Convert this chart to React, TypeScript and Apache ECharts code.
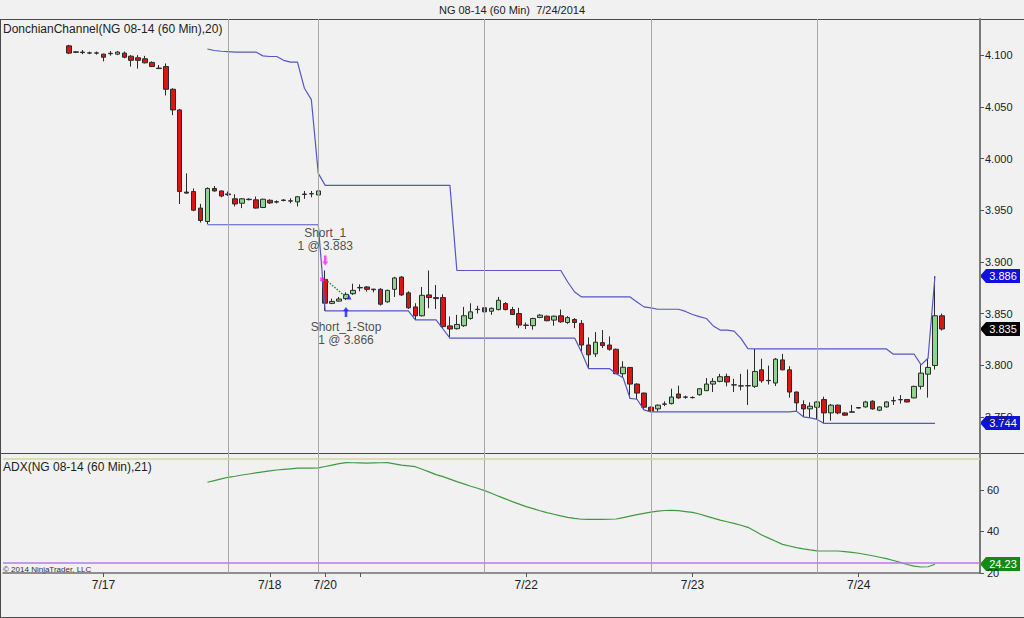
import React, { useEffect, useRef } from 'react';
import * as echarts from 'echarts';

// ---------- data ----------
const leadingSlots = 9;
const trailingSlots = 5;

const opens = [
  4.109, 4.1032, 4.103, 4.102, 4.1022, 4.101, 4.1014, 4.101, 4.102, 4.099,
  4.0975, 4.0965, 4.093, 4.0875, 4.089, 4.067, 4.047, 3.9675, 3.968, 3.952,
  3.939, 3.971, 3.9686, 3.9657, 3.961, 3.9567, 3.9602, 3.96, 3.9526, 3.9596,
  3.9582, 3.9598, 3.959, 3.958, 3.9656, 3.966, 3.9647, 3.883, 3.8598, 3.862,
  3.8644, 3.8692, 3.8752, 3.8757, 3.8736, 3.8734, 3.8613, 3.8734, 3.8853, 3.87,
  3.8564, 3.8478, 3.868, 3.8654, 3.8654, 3.838, 3.8353, 3.8382, 3.8452, 3.8541,
  3.8555, 3.8522, 3.8538, 3.8596, 3.8538, 3.85, 3.8388, 3.8382, 3.8462, 3.8474,
  3.8436, 3.8478, 3.8413, 3.8442, 3.8404, 3.8195, 3.8109, 3.8218, 3.8195, 3.8154,
  3.7917, 3.7978, 3.7817, 3.773, 3.7593, 3.7577, 3.7625, 3.7628, 3.7721, 3.7692,
  3.7688, 3.7714, 3.7753, 3.7817, 3.7843, 3.7891, 3.781, 3.78, 3.7802, 3.7795,
  3.7955, 3.7853, 3.7827, 3.8051, 3.7955, 3.774, 3.7618, 3.7577, 3.7593, 3.7667,
  3.7538, 3.7613, 3.7538, 3.7548, 3.759, 3.7596, 3.7651, 3.7564, 3.7596, 3.7657,
  3.7667, 3.7667, 3.7683, 3.7795, 3.7913, 3.7997, 3.8478,
];
const closes = [
  4.102, 4.1028, 4.1025, 4.1022, 4.102, 4.098, 4.1018, 4.103, 4.098, 4.095,
  4.095, 4.0926, 4.089, 4.087, 4.067, 4.047, 3.968, 3.9665, 3.95, 3.94,
  3.971, 3.9686, 3.9637, 3.965, 3.956, 3.961, 3.9606, 3.952, 3.9606, 3.957,
  3.9578, 3.9594, 3.9588, 3.963, 3.9652, 3.9658, 3.9686, 3.86, 3.8617, 3.864,
  3.8685, 3.8724, 3.8748, 3.8734, 3.873, 3.859, 3.8724, 3.8844, 3.868, 3.8555,
  3.8478, 3.8676, 3.8654, 3.8644, 3.8373, 3.835, 3.8394, 3.8478, 3.8516, 3.8538,
  3.8516, 3.855, 3.8628, 3.8538, 3.849, 3.8388, 3.8385, 3.8452, 3.8484, 3.843,
  3.8474, 3.842, 3.846, 3.8413, 3.8195, 3.81, 3.8222, 3.819, 3.8154, 3.7917,
  3.798, 3.7817, 3.773, 3.7593, 3.7555, 3.7613, 3.7622, 3.7692, 3.7683, 3.769,
  3.7686, 3.7772, 3.7817, 3.7843, 3.7888, 3.7837, 3.7808, 3.7798, 3.78, 3.7939,
  3.7849, 3.785, 3.8058, 3.7955, 3.774, 3.7635, 3.7577, 3.7603, 3.7644, 3.7538,
  3.7613, 3.7538, 3.7516, 3.7545, 3.7585, 3.7644, 3.7577, 3.7596, 3.7644, 3.7655,
  3.7665, 3.7644, 3.7795, 3.7923, 3.7978, 3.8478, 3.835,
];
const lows = [
  4.101, 4.102, 4.101, 4.101, 4.1005, 4.094, 4.0995, 4.1, 4.097, 4.089,
  4.087, 4.092, 4.0885, 4.0868, 4.061, 4.042, 3.956, 3.966, 3.949, 3.938,
  3.9365, 3.968, 3.9625, 3.9638, 3.9536, 3.952, 3.9595, 3.9515, 3.952, 3.956,
  3.9565, 3.9585, 3.9567, 3.9536, 3.961, 3.9625, 3.964, 3.8525, 3.859, 3.8615,
  3.863, 3.868, 3.8715, 3.8712, 3.8705, 3.8577, 3.8605, 3.866, 3.867, 3.8545,
  3.8438, 3.8471, 3.8551, 3.8544, 3.835, 3.8262, 3.8345, 3.837, 3.844, 3.85,
  3.8505, 3.8487, 3.853, 3.853, 3.8485, 3.8358, 3.835, 3.8343, 3.8455, 3.8425,
  3.8382, 3.841, 3.84, 3.8358, 3.8125, 3.7967, 3.808, 3.8166, 3.814, 3.7915,
  3.7878, 3.7679, 3.767, 3.7567, 3.7548, 3.7548, 3.7603, 3.762, 3.7675, 3.7675,
  3.7677, 3.7705, 3.775, 3.774, 3.7835, 3.7795, 3.774, 3.7756, 3.7615, 3.778,
  3.783, 3.7813, 3.7798, 3.795, 3.7686, 3.7558, 3.75, 3.749, 3.7475, 3.7436,
  3.7462, 3.7525, 3.751, 3.7541, 3.758, 3.759, 3.757, 3.7555, 3.759, 3.7615,
  3.7628, 3.764, 3.768, 3.7765, 3.7686, 3.7958, 3.8335,
];
const highs = [
  4.11, 4.104, 4.105, 4.1035, 4.1035, 4.1015, 4.104, 4.104, 4.1035, 4.1,
  4.1, 4.0993, 4.094, 4.0905, 4.092, 4.068, 4.048, 3.9856, 3.971, 3.9561,
  3.972, 3.9734, 3.969, 3.968, 3.9654, 3.9615, 3.9615, 3.9632, 3.961, 3.9605,
  3.9595, 3.9606, 3.9615, 3.9635, 3.9686, 3.9686, 3.97, 3.8916, 3.8644, 3.866,
  3.8705, 3.8788, 3.8782, 3.8765, 3.8738, 3.8745, 3.873, 3.8855, 3.886, 3.8715,
  3.8599, 3.8757, 3.8916, 3.8775, 3.8686, 3.8471, 3.8487, 3.8564, 3.8599, 3.8574,
  3.8565, 3.8558, 3.866, 3.861, 3.8564, 3.8555, 3.8413, 3.8458, 3.8494, 3.848,
  3.848, 3.8538, 3.8475, 3.8455, 3.8436, 3.8269, 3.832, 3.834, 3.8278, 3.816,
  3.8038, 3.798, 3.7825, 3.7735, 3.76, 3.762, 3.765, 3.7772, 3.7801, 3.7705,
  3.7698, 3.7775, 3.7875, 3.7875, 3.7916, 3.7918, 3.7868, 3.7916, 3.7958, 3.8157,
  3.8063, 3.7996, 3.807, 3.8109, 3.799, 3.7745, 3.766, 3.764, 3.765, 3.7695,
  3.7625, 3.762, 3.7545, 3.7615, 3.7595, 3.7655, 3.766, 3.76, 3.765, 3.7695,
  3.7711, 3.767, 3.78, 3.8006, 3.8067, 3.886, 3.85,
];

// Donchian channel (20) and ADX (21) start at bar 20
const indicatorStartBar = 20;
const donchianUpper = [
  4.106, 4.1045, 4.1038, 4.1035, 4.103, 4.103, 4.103, 4.103, 4.0993, 4.0987,
  4.0987, 4.095, 4.0933, 4.0933, 4.068, 4.057, 3.9856, 3.974, 3.974, 3.974,
  3.974, 3.974, 3.974, 3.974, 3.974, 3.974, 3.974, 3.974, 3.974, 3.974,
  3.974, 3.974, 3.974, 3.974, 3.974, 3.974, 3.8916, 3.8916, 3.8916, 3.8916,
  3.8916, 3.8916, 3.8916, 3.8916, 3.8916, 3.8916, 3.8916, 3.8916, 3.8916, 3.8916,
  3.8916, 3.8916, 3.8805, 3.8708, 3.866, 3.866, 3.866, 3.866, 3.866, 3.866,
  3.866, 3.866, 3.8612, 3.8564, 3.8555, 3.8541, 3.8541, 3.8541, 3.8541, 3.852,
  3.849, 3.847, 3.8452, 3.838, 3.834, 3.834, 3.833, 3.826, 3.816, 3.8157,
  3.8157, 3.8157, 3.8157, 3.8157, 3.8157, 3.8157, 3.8157, 3.8157, 3.8157, 3.8157,
  3.8157, 3.8157, 3.8157, 3.8157, 3.8157, 3.8157, 3.8157, 3.8157, 3.8157, 3.8106,
  3.8106, 3.8106, 3.8106, 3.8003, 3.8067, 3.886,
];
const donchianLower = [
  3.9359, 3.9359, 3.9359, 3.9359, 3.9359, 3.9359, 3.9359, 3.9359, 3.9359, 3.9359,
  3.9359, 3.9359, 3.9359, 3.9359, 3.9359, 3.9359, 3.9359, 3.8525, 3.8525, 3.8525,
  3.8525, 3.8525, 3.8525, 3.8525, 3.8525, 3.8525, 3.8525, 3.8525, 3.8525, 3.8525,
  3.8438, 3.8438, 3.8438, 3.8438, 3.835, 3.8262, 3.8262, 3.8262, 3.8262, 3.8262,
  3.8262, 3.8262, 3.8262, 3.8262, 3.8262, 3.8262, 3.8262, 3.8262, 3.8262, 3.8262,
  3.8262, 3.8262, 3.8262, 3.8262, 3.8125, 3.7967, 3.7967, 3.7967, 3.7967, 3.7917,
  3.7878, 3.7679, 3.767, 3.7567, 3.7548, 3.7548, 3.7548, 3.7548, 3.7548, 3.7548,
  3.7548, 3.7548, 3.7548, 3.7548, 3.7548, 3.7548, 3.7548, 3.7548, 3.7548, 3.7548,
  3.7548, 3.7548, 3.7548, 3.7548, 3.7548, 3.7555, 3.75, 3.749, 3.7475, 3.7436,
  3.7436, 3.7436, 3.7436, 3.7436, 3.7436, 3.7436, 3.7436, 3.7436, 3.7436, 3.7436,
  3.7436, 3.7436, 3.7436, 3.7436, 3.7436, 3.7436,
];
const adxValues = [
  63.7, 64.5, 65.3, 66.1, 66.6, 67.2, 67.7, 68.2, 68.7, 69.2,
  69.6, 69.9, 70.2, 70.5, 70.5, 70.5, 70.6, 71.3, 72.0, 72.7,
  73.2, 73.1, 73.0, 72.9, 73.0, 73.1, 73.2, 72.6, 72.0, 71.6,
  71.2, 70.0, 68.7, 67.4, 66.4, 65.2, 64.0, 62.9, 61.8, 60.8,
  59.7, 58.4, 57.0, 55.7, 54.4, 53.2, 52.0, 51.0, 50.0, 49.1,
  48.3, 47.5, 46.8, 46.3, 45.9, 45.8, 45.8, 45.8, 45.9, 46.0,
  46.7, 47.4, 48.1, 48.7, 49.3, 49.8, 50.1, 50.2, 50.0, 49.6,
  49.2, 48.4, 47.4, 46.4, 45.5, 44.7, 43.9, 43.0, 42.0, 40.2,
  38.3, 36.8, 35.3, 33.8, 33.0, 32.2, 31.6, 31.1, 30.7, 30.6,
  30.6, 30.6, 30.3, 29.9, 29.5, 28.9, 28.3, 27.6, 26.9, 26.0,
  25.1, 24.1, 23.3, 22.9, 23.0, 24.23,
];
const adxLevels = [25, 75];

const sessionBreakBars = [23, 36, 60, 84, 108];
const dateTickBars = [5, 29, 37, 42, 66, 90, 114];
const dateTickLabels = ['7/17', '7/18', '7/20', '', '7/22', '7/23', '7/24'];
const priceTicks = [3.75, 3.8, 3.85, 3.9, 3.95, 4.0, 4.05, 4.1];
const adxTicks = [20, 40, 60];

const tradeEntry = { bar: 37, price: 3.883, name: 'Short_1' };
const tradeExit = { bar: 40, price: 3.866, name: 'Short_1-Stop' };

const titleText = 'NG 08-14 (60 Min)  7/24/2014';
const priceLabel = 'DonchianChannel(NG 08-14 (60 Min),20)';
const adxLabel = 'ADX(NG 08-14 (60 Min),21)';
const copyright = '\u00A9 2014 NinjaTrader, LLC';

const FONT = '"Liberation Sans", Arial, sans-serif';

export default function App() {
  const ref = useRef<HTMLDivElement>(null);

  useEffect(() => {
    const el = ref.current!;
    const chart = echarts.init(el, null, { renderer: 'svg' });
    const n = opens.length;
    const total = leadingSlots + n + trailingSlots;
    const categories = Array.from({ length: total }, (_, i) => String(i));
    const slot = (bar: number) => bar + leadingSlots;

    const candleData = categories.map((_, i) => {
      const b = i - leadingSlots;
      return b >= 0 && b < n ? [opens[b], closes[b], lows[b], highs[b]] : '-';
    });
    const pad = (start: number, values: number[]) =>
      categories.map((_, i) => {
        const b = i - leadingSlots - start;
        return b >= 0 && b < values.length ? values[b] : '-';
      });

    const tickSlots = dateTickBars.map(slot);
    const tickLabelAt = (idx: number) => {
      const k = tickSlots.indexOf(idx);
      return k >= 0 ? dateTickLabels[k] : '';
    };
    const isTick = (idx: number) => tickSlots.includes(idx);

    const sessionLines = sessionBreakBars.map((b) => ({ xAxis: slot(b) }));
    const vLineStyle = { color: '#a8a8a8', width: 1, type: 'solid' as const };

    const empty = categories.map(() => '-');

    const option: any = {
      animation: false,
      backgroundColor: '#f1f1f1',
      textStyle: { fontFamily: FONT },
      grid: [
        { left: 3, top: 19, width: 977, height: 434 },
        { left: 3, top: 453, width: 977, height: 120 },
      ],
      xAxis: [
        {
          type: 'category', gridIndex: 0, data: categories, boundaryGap: true,
          axisLine: { show: false }, axisTick: { show: false }, axisLabel: { show: false },
          splitLine: { show: false },
        },
        {
          type: 'category', gridIndex: 1, data: categories, boundaryGap: true,
          axisLine: { show: true, lineStyle: { color: '#6e6e6e', width: 1.5 } },
          axisTick: { show: true, alignWithLabel: true, interval: (i: number) => isTick(i), length: 4, lineStyle: { color: '#555' } },
          axisLabel: {
            show: true, interval: (i: number) => isTick(i), formatter: (_v: string, i: number) => tickLabelAt(i),
            fontSize: 12, color: '#222', margin: 6, fontFamily: FONT,
          },
          splitLine: { show: false },
        },
      ],
      yAxis: [
        {
          type: 'value', gridIndex: 0, position: 'right', min: 3.715, max: 4.135, scale: true,
          axisLine: { show: true, lineStyle: { color: '#7a7a7a', width: 2 } },
          axisTick: { show: true, length: 4, customValues: priceTicks, lineStyle: { color: '#555' } },
          axisLabel: {
            show: true, customValues: priceTicks, formatter: (v: number) => v.toFixed(3),
            fontSize: 11, color: '#222', margin: 5, fontFamily: FONT,
          },
          splitLine: { show: false },
        },
        {
          type: 'value', gridIndex: 1, position: 'right', min: 20, max: 77.8,
          axisLine: { show: true, lineStyle: { color: '#7a7a7a', width: 2 } },
          axisTick: { show: true, length: 4, customValues: adxTicks, lineStyle: { color: '#555' } },
          axisLabel: {
            show: true, customValues: adxTicks, formatter: (v: number) => String(v),
            fontSize: 11, color: '#222', margin: 7, fontFamily: FONT,
          },
          splitLine: { show: false },
        },
      ],
      series: [
        {
          name: 'sessions', type: 'line', xAxisIndex: 0, yAxisIndex: 0, data: empty, z: 1,
          symbol: 'none', silent: true,
          markLine: { silent: true, symbol: ['none', 'none'], label: { show: false }, lineStyle: vLineStyle, data: sessionLines },
        },
        {
          name: 'sessions2', type: 'line', xAxisIndex: 1, yAxisIndex: 1, data: empty, z: 1,
          symbol: 'none', silent: true,
          markLine: {
            silent: true, symbol: ['none', 'none'], label: { show: false },
            data: [
              ...sessionLines.map((d) => ({ ...d, lineStyle: vLineStyle })),
              { yAxis: adxLevels[0], lineStyle: { color: '#b77de0', width: 1.5, type: 'solid' } },
              { yAxis: adxLevels[1], lineStyle: { color: '#cfd99a', width: 1.5, type: 'solid' } },
            ],
          },
        },
        {
          name: 'NG', type: 'candlestick', xAxisIndex: 0, yAxisIndex: 0, data: candleData, z: 3,
          barWidth: 5,
          itemStyle: {
            color: '#8fd38f', color0: '#dc1414', borderColor: '#2a2a2a', borderColor0: '#2a2a2a', borderWidth: 1,
          },
        },
        {
          name: 'Upper', type: 'line', xAxisIndex: 0, yAxisIndex: 0, data: pad(indicatorStartBar, donchianUpper),
          symbol: 'none', z: 4, lineStyle: { color: '#5656c8', width: 1.2 },
        },
        {
          name: 'Lower', type: 'line', xAxisIndex: 0, yAxisIndex: 0, data: pad(indicatorStartBar, donchianLower),
          symbol: 'none', z: 4, lineStyle: { color: '#5656c8', width: 1.2 },
        },
        {
          name: 'ADX', type: 'line', xAxisIndex: 1, yAxisIndex: 1, data: pad(indicatorStartBar, adxValues),
          symbol: 'none', z: 4, lineStyle: { color: '#3f9a3f', width: 1.2 },
        },
        {
          name: 'trade', type: 'line', xAxisIndex: 0, yAxisIndex: 0, z: 5,
          data: [[String(slot(tradeEntry.bar)), tradeEntry.price], [String(slot(tradeExit.bar)), tradeExit.price]],
          symbol: 'none', lineStyle: { color: '#2c8a2c', width: 1.5, type: 'dotted' },
        },
        {
          name: 'entryArrow', type: 'scatter', xAxisIndex: 0, yAxisIndex: 0, z: 6,
          data: [[String(slot(tradeEntry.bar)), highs[tradeEntry.bar]]],
          symbol: 'path://M2,0 L5,0 L5,6 L7,6 L3.5,10 L0,6 L2,6 Z', symbolSize: [6, 10], symbolOffset: [0, -10],
          itemStyle: { color: '#ff22ff' },
          label: {
            show: true, position: 'top', distance: 3, color: '#222', fontSize: 12, lineHeight: 13, fontFamily: FONT,
            formatter: `${tradeEntry.name}\n1 @ ${tradeEntry.price.toFixed(3)}`,
          },
        },
        {
          name: 'exitArrow', type: 'scatter', xAxisIndex: 0, yAxisIndex: 0, z: 6,
          data: [[String(slot(tradeExit.bar)), lows[tradeExit.bar]]],
          symbol: 'path://M3.5,0 L7,4 L5,4 L5,10 L2,10 L2,4 L0,4 Z', symbolSize: [6, 10], symbolOffset: [0, 12],
          itemStyle: { color: '#1a1aff' },
          label: {
            show: true, position: 'bottom', distance: 3, color: '#222', fontSize: 12, lineHeight: 13, fontFamily: FONT,
            formatter: `${tradeExit.name}\n1 @ ${tradeExit.price.toFixed(3)}`,
          },
        },
        {
          name: 'entryMark', type: 'scatter', xAxisIndex: 0, yAxisIndex: 0, z: 6,
          data: [[String(slot(tradeEntry.bar)), tradeEntry.price]],
          symbol: 'rect', symbolSize: [4, 4], symbolOffset: [-3, 0], itemStyle: { color: '#ff22ff' },
        },
        {
          name: 'exitMark', type: 'scatter', xAxisIndex: 0, yAxisIndex: 0, z: 6,
          data: [[String(slot(tradeExit.bar)), tradeExit.price]],
          symbol: 'triangle', symbolSize: [5, 5], symbolOffset: [3, 0], itemStyle: { color: '#1a1aff' },
        },
      ],
    };
    chart.setOption(option);

    const tag = (yAxisIndex: number, value: number, text: string, fill: string) => {
      const y = Math.round(chart.convertToPixel({ yAxisIndex } as any, value) as number);
      return {
        type: 'group', x: 980, y,
        children: [
          { type: 'polygon', shape: { points: [[0, 0], [6, -7], [40, -7], [40, 7], [6, 7]] }, style: { fill } },
          {
            type: 'text', x: 23, y: 0,
            style: { text, fill: '#ffffff', font: `11px ${FONT}`, textAlign: 'center', textVerticalAlign: 'middle' },
          },
        ],
      };
    };
    const lastUpper = donchianUpper[donchianUpper.length - 1];
    const lastLower = donchianLower[donchianLower.length - 1];
    const lastClose = closes[closes.length - 1];
    const lastAdx = adxValues[adxValues.length - 1];

    const graphics: any[] = [
      { type: 'line', shape: { x1: 0, y1: 19.5, x2: 1024, y2: 19.5 }, style: { stroke: '#4a4a4a', lineWidth: 1 } },
      { type: 'line', shape: { x1: 0, y1: 453.5, x2: 1024, y2: 453.5 }, style: { stroke: '#4a4a4a', lineWidth: 1 } },
      { type: 'line', shape: { x1: 0.5, y1: 19, x2: 0.5, y2: 618 }, style: { stroke: '#4a4a4a', lineWidth: 1 } },
      { type: 'line', shape: { x1: 0, y1: 617.5, x2: 1024, y2: 617.5 }, style: { stroke: '#4a4a4a', lineWidth: 1 } },
      {
        type: 'text', x: 512, y: 10,
        style: { text: titleText, fill: '#222', font: `11px ${FONT}`, textAlign: 'center', textVerticalAlign: 'middle' },
      },
      {
        type: 'text', x: 3, y: 29,
        style: { text: priceLabel, fill: '#222', font: `12px ${FONT}`, textAlign: 'left', textVerticalAlign: 'middle' },
      },
      {
        type: 'text', x: 3, y: 467,
        style: { text: adxLabel, fill: '#222', font: `12px ${FONT}`, textAlign: 'left', textVerticalAlign: 'middle' },
      },
      {
        type: 'text', x: 3, y: 569,
        style: { text: copyright, fill: '#333', font: `8px ${FONT}`, textAlign: 'left', textVerticalAlign: 'middle' },
      },
      tag(0, lastUpper, lastUpper.toFixed(3), '#1010e0'),
      tag(0, lastClose, lastClose.toFixed(3), '#000000'),
      tag(0, lastLower, lastLower.toFixed(3), '#1010e0'),
      tag(1, lastAdx, lastAdx.toFixed(2), '#138a13'),
    ];
    chart.setOption({ graphic: graphics });

    return () => chart.dispose();
  }, []);

  return <div ref={ref} style={{ position: 'fixed', left: 0, top: 0, width: 1024, height: 618 }} />;
}
